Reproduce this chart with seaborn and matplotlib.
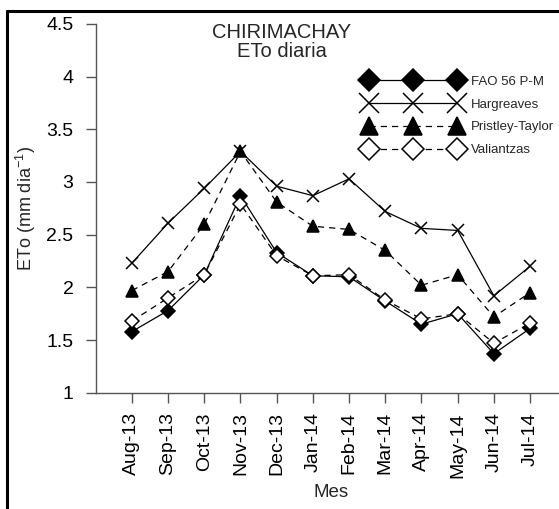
import pandas as pd
import matplotlib
matplotlib.use("Agg")
import matplotlib.pyplot as plt
from matplotlib.lines import Line2D
import seaborn as sns

# Monthly mean daily ETo, Chirimachay station
months = ["Aug-13", "Sep-13", "Oct-13", "Nov-13", "Dec-13", "Jan-14",
          "Feb-14", "Mar-14", "Apr-14", "May-14", "Jun-14", "Jul-14"]
fao = [1.58, 1.78, 2.12, 2.87, 2.33, 2.11, 2.10, 1.87, 1.65, 1.75, 1.37, 1.61]
hargreaves = [2.23, 2.61, 2.94, 3.29, 2.96, 2.87, 3.03, 2.72, 2.56, 2.54, 1.92, 2.20]
priestley = [1.97, 2.15, 2.60, 3.29, 2.81, 2.58, 2.55, 2.35, 2.02, 2.12, 1.72, 1.95]
valiantzas = [1.68, 1.90, 2.12, 2.79, 2.30, 2.11, 2.12, 1.88, 1.70, 1.75, 1.47, 1.66]

sns.set_style("ticks")
plt.rcParams["font.family"] = ["Liberation Sans", "DejaVu Sans"]
plt.rcParams["mathtext.default"] = "regular"

fig = plt.figure(figsize=(5.59, 5.09), dpi=100)
ax = fig.add_axes([0.1712, 0.2285, 0.8418, 0.7244])

x = list(range(len(months)))
series = [
    ("FAO 56 P-M", fao, "D", "black", "-", 7),
    ("Hargreaves", hargreaves, "x", "black", "-", 9),
    ("Pristley-Taylor", priestley, "^", "black", (0, (5, 4)), 8),
    ("Valiantzas", valiantzas, "D", "white", (0, (5, 4)), 7),
]
for name, vals, mk, fc, ls, ms in series:
    df = pd.DataFrame({"x": x, "y": vals})
    sns.lineplot(data=df, x="x", y="y", ax=ax, color="black", lw=0.9,
                 linestyle=ls, marker=mk, markersize=ms, markerfacecolor=fc,
                 markeredgecolor="black", markeredgewidth=1.1, label=name)

ax.set_xlim(-1, 12)
ax.set_ylim(1, 4.5)
ax.set_xticks(x)
ax.set_xticklabels(months, rotation=90, fontsize=14)
ax.set_yticks([1, 1.5, 2, 2.5, 3, 3.5, 4, 4.5])
ax.set_yticklabels(["1", "1.5", "2", "2.5", "3", "3.5", "4", "4.5"], fontsize=14)
ax.set_xlabel("Mes", fontsize=13.5, labelpad=5)
ax.set_ylabel("ETo (mm dia$^{-1}$)", fontsize=13, labelpad=6)
sns.despine(ax=ax)
for sp in ["left", "bottom"]:
    ax.spines[sp].set_color("#555555")
    ax.spines[sp].set_linewidth(1.0)
ax.tick_params(axis="both", colors="#555555", labelcolor="black",
               length=7, width=1.0, direction="out")
ax.tick_params(axis="x", pad=7)
ax.tick_params(axis="y", pad=9)

ax.text(0.395, 1.003, "CHIRIMACHAY\nETo diaria", transform=ax.transAxes,
        ha="center", va="top", fontsize=14.5, linespacing=1.0)

leg = ax.legend(loc="upper left", bbox_to_anchor=(0.572, 0.86), frameon=False,
                numpoints=3, markerscale=1.6, handlelength=7.3,
                handletextpad=0.75, labelspacing=0.8, borderpad=0,
                borderaxespad=0, fontsize=9.5)

# outer frame of the original figure (top and left edges visible)
fig.add_artist(Line2D([6.5 / 559, 6.5 / 559], [0, 1 - 11 / 509], color="black",
                      lw=2.2, transform=fig.transFigure))
fig.add_artist(Line2D([6.5 / 559, 1], [1 - 11 / 509, 1 - 11 / 509], color="black",
                      lw=2.2, transform=fig.transFigure))

fig.savefig("out.png", dpi=100)
